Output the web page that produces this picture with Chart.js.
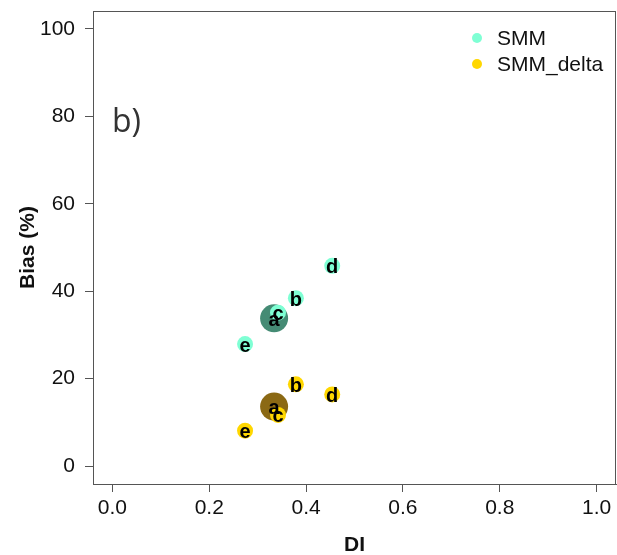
<!DOCTYPE html>
<html>
<head>
<meta charset="utf-8">
<script src="https://cdn.jsdelivr.net/npm/chart.js@4/dist/chart.umd.min.js"></script>
<style>
  html, body { margin: 0; padding: 0; background: #fff; }
  canvas { display: block; }
</style>
</head>
<body>
<canvas id="biasChart" width="617" height="555"></canvas>
<script>
// scenario labels and coordinates
let caseLabels = ['a', 'b', 'c', 'd', 'e'];
let diValues = [0.334, 0.379, 0.342, 0.454, 0.274];
let smmBias = [33.8, 38.4, 35.1, 45.8, 27.9];
let smmDeltaBias = [13.6, 18.7, 11.7, 16.4, 8.1];

let xTicks = [0.0, 0.2, 0.4, 0.6, 0.8, 1.0];
let yTicks = [0, 20, 40, 60, 80, 100];

let seriesNames = ['SMM', 'SMM_delta'];
let seriesColors = ['#7FFFD4', '#FFD700'];
let highlightColors = ['#458B74', '#8B6914']; // point "a" gets a bigger, darker dot

const FONT = "'Liberation Sans', Arial, sans-serif";

function toPoints(ys) {
    return ys.map((y, i) => ({ x: diValues[i], y: y }));
}

function makeDataset(idx, ys) {
    return {
        label: seriesNames[idx],
        data: toPoints(ys),
        pointRadius: caseLabels.map(l => l === 'a' ? 14 : 8),
        pointHoverRadius: caseLabels.map(l => l === 'a' ? 14 : 8),
        pointBackgroundColor: caseLabels.map(l => l === 'a' ? highlightColors[idx] : seriesColors[idx]),
        pointBorderWidth: 0,
        showLine: false
    };
}

// keep the plot box exactly where the layout padding puts it
function noScalePadding(s) {
    s.paddingLeft = 0;
    s.paddingRight = 0;
    s.paddingTop = 0;
    s.paddingBottom = 0;
}

// box, axis titles, panel tag, legend and point letters
const decorations = {
    id: 'decorations',
    afterDatasetsDraw(chart) {
        const ctx = chart.ctx;
        const xs = chart.scales.x, ys = chart.scales.y;

        // letters on top of every point
        ctx.save();
        ctx.fillStyle = '#000';
        ctx.font = 'bold 20px ' + FONT;
        ctx.textAlign = 'center';
        ctx.textBaseline = 'middle';
        chart.data.datasets.forEach(ds => {
            ds.data.forEach((p, i) => {
                ctx.fillText(caseLabels[i], xs.getPixelForValue(p.x), ys.getPixelForValue(p.y) + 2);
            });
        });
        ctx.restore();
    },
    afterDraw(chart) {
        const ctx = chart.ctx;
        const area = chart.chartArea;
        ctx.save();

        // full frame
        ctx.strokeStyle = '#555';
        ctx.lineWidth = 1;
        ctx.strokeRect(area.left + 0.5, area.top + 0.5, area.right - area.left - 1, area.bottom - area.top);

        // axis titles
        ctx.fillStyle = '#111';
        ctx.font = 'bold 21px ' + FONT;
        ctx.textAlign = 'center';
        ctx.textBaseline = 'middle';
        ctx.fillText('DI', (area.left + area.right) / 2, 545);
        ctx.save();
        ctx.translate(28, (area.top + area.bottom) / 2);
        ctx.rotate(-Math.PI / 2);
        ctx.fillText('Bias (%)', 0, 0);
        ctx.restore();

        // panel tag
        ctx.fillStyle = '#333';
        ctx.font = "32px 'Open Sans', sans-serif";
        ctx.textAlign = 'left';
        ctx.fillText('b)', 112, 123);

        // legend
        ctx.font = '21px ' + FONT;
        seriesNames.forEach((name, i) => {
            const y = 38 + i * 26;
            ctx.beginPath();
            ctx.arc(477, y, 5, 0, Math.PI * 2);
            ctx.fillStyle = seriesColors[i];
            ctx.fill();
            ctx.fillStyle = '#111';
            ctx.fillText(name, 497, y + 1);
        });

        ctx.restore();
    }
};

const ctx = document.getElementById('biasChart').getContext('2d');
const chart = new Chart(ctx, {
    type: 'scatter',
    data: {
        datasets: [makeDataset(0, smmBias), makeDataset(1, smmDeltaBias)]
    },
    options: {
        responsive: false,
        animation: false,
        events: [],
        layout: { autoPadding: false, padding: { top: 11, right: 1, left: 0, bottom: 0 } },
        plugins: {
            legend: { display: false },
            tooltip: { enabled: false }
        },
        scales: {
            x: {
                type: 'linear',
                min: -0.04,
                max: 1.04,
                afterFit: s => { s.height = 71; noScalePadding(s); },
                afterBuildTicks: s => { s.ticks = xTicks.map(v => ({ value: v })); },
                border: { display: true, color: '#555', width: 1 },
                grid: { drawOnChartArea: false, drawTicks: true, tickLength: 8, color: '#555' },
                ticks: {
                    color: '#111',
                    padding: 4,
                    maxRotation: 0,
                    font: { family: FONT, size: 21 },
                    callback: v => v.toFixed(1)
                }
            },
            y: {
                type: 'linear',
                min: -4.1,
                max: 104.1,
                afterFit: s => { s.width = 93; noScalePadding(s); },
                afterBuildTicks: s => { s.ticks = yTicks.map(v => ({ value: v })); },
                border: { display: true, color: '#555', width: 1 },
                grid: { drawOnChartArea: false, drawTicks: true, tickLength: 8, color: '#555' },
                ticks: {
                    color: '#111',
                    padding: 10,
                    font: { family: FONT, size: 21 },
                    callback: v => String(v)
                }
            }
        }
    },
    plugins: [decorations]
});
</script>
</body>
</html>
